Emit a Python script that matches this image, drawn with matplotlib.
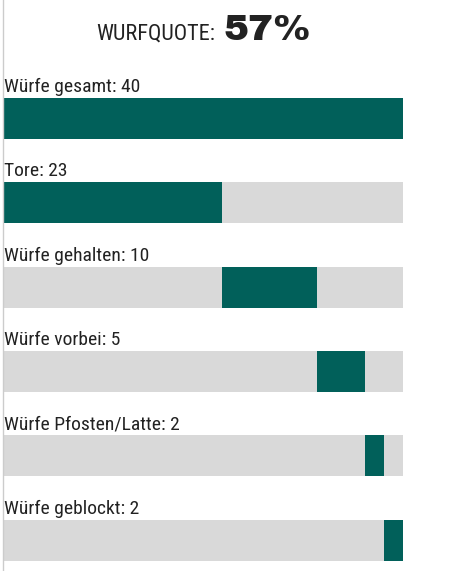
import matplotlib
matplotlib.use("Agg")
import matplotlib.pyplot as plt

# ---- data ----
title_label = "WURFQUOTE:"
title_value = "57%"
total_label = "Würfe gesamt"
total_value = 40
categories = ["Tore", "Würfe gehalten", "Würfe vorbei", "Würfe Pfosten/Latte", "Würfe geblockt"]
values = [23, 10, 5, 2, 2]

TEAL = "#01605A"
GREY = "#D9D9D9"
TXT = "#222222"

NARROW = ["Roboto Condensed", "Archivo Narrow", "Liberation Sans", "DejaVu Sans"]
HEAVY = ["Archivo Black", "DejaVu Sans"]

W, H = 464, 571
fig = plt.figure(figsize=(W / 100, H / 100), dpi=100)
ax = fig.add_axes([4 / W, 0, 399 / W, 1])
scale_total = sum(values)
ax.set_xlim(0, scale_total)
ax.set_ylim(H, 0)
ax.axis("off")

# left thin rule
fig.add_artist(plt.Line2D([3.5 / W, 3.5 / W], [0, 1], color="#CCCCCC", lw=1))

row0 = 118.5
step = 84.3
bar_h = 41

rows = [(total_label, total_value, None)]
left = 0
for c, v in zip(categories, values):
    rows.append((c, v, left))
    left += v

for i, (lab, val, start) in enumerate(rows):
    yc = row0 + i * step
    if start is None:
        ax.barh(yc, scale_total, height=bar_h, left=0, color=TEAL)
    else:
        ax.barh(yc, scale_total, height=bar_h, left=0, color=GREY)
        ax.barh(yc, val, height=bar_h, left=start, color=TEAL)
    ax.text(0, yc - bar_h / 2 - 6, f"{lab}: {val}", ha="left", va="baseline",
            fontsize=14, family=NARROW, color=TXT)

# title
fig.canvas.draw()
r = fig.canvas.get_renderer()
t1 = fig.text(0, 1 - 39.5 / H, title_label, ha="left", va="baseline",
              fontsize=16, family=NARROW, color=TXT)
t2 = fig.text(0, 1 - 39.5 / H, title_value, ha="left", va="baseline",
              fontsize=27, family=HEAVY, color=TXT)
w1 = t1.get_window_extent(r).width
w2 = t2.get_window_extent(r).width
gap = 8
cx = 4 + 399 / 2
x0 = cx - (w1 + gap + w2) / 2
t1.set_x(x0 / W)
t2.set_x((x0 + w1 + gap) / W)

fig.savefig("out.png", dpi=100)
